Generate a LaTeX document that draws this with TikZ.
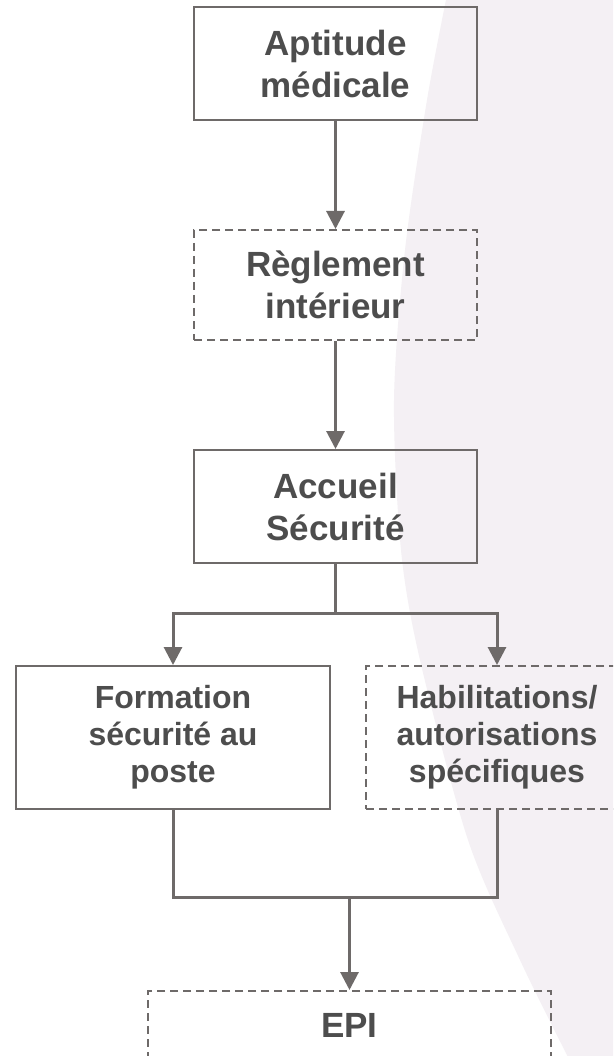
\documentclass[tikz,border=0pt]{standalone}
\usepackage{fontspec}
\setmainfont{Liberation Sans}
\usetikzlibrary{arrows.meta}
\definecolor{linegray}{RGB}{110,106,105}
\definecolor{textgray}{RGB}{77,77,77}
\definecolor{bgpink}{RGB}{244,240,244}

\begin{document}
\begin{tikzpicture}[x={(1pt,0pt)},y={(0pt,-1pt)},
        box/.style={draw=linegray,line width=2pt,inner sep=0pt,align=center,text=textgray,
            font=\bfseries\fontsize{35}{42}\selectfont},
        dbox/.style={box,dash pattern=on 8pt off 5pt},
        small/.style={font=\bfseries\fontsize{32}{37}\selectfont},
        link/.style={draw=linegray,line width=3pt},
        arrow/.style={link,-{Triangle[length=18pt,width=18pt]}}]
            \clip (0,0) rectangle (613,1056);
            \fill[white] (0,0) rectangle (613,1056);
            \fill[bgpink] plot[smooth] coordinates {(447,-5) (427,100) (405,250) (394,400) (401,550) (420,660) (468,840) (520,960) (570,1061)}
                -- (620,1061) -- (620,-5) -- cycle;
            \node[box,minimum width=283,minimum height=113] (apt) at (335.5,63.5) {Aptitude\\médicale};
            \node[dbox,minimum width=283,minimum height=110] (regl) at (335.5,285) {Règlement\\intérieur};
            \node[box,minimum width=283,minimum height=113] (accueil) at (335.5,506.5) {Accueil\\Sécurité};
            \node[box,small,minimum width=314,minimum height=143] (form) at (173,737.5) {Formation\\sécurité au\\poste};
            \node[dbox,small,minimum width=262,minimum height=143] (habil) at (497,737.5) {Habilitations/\\autorisations\\spécifiques};
            \node[dbox,minimum width=403,minimum height=69] (epi) at (349.5,1025.5) {EPI};
            \coordinate (split) at (335.5,613);
            \coordinate (merge) at (349.5,897);
            \draw[arrow] (apt) -- (regl);
            \draw[arrow] (regl) -- (accueil);
            \draw[link] (accueil) -- (split);
            \draw[arrow] (split) -| (form);
            \draw[arrow] (split) -| (habil);
            \draw[link] (form) |- (merge);
            \draw[link] (habil) |- (merge);
            \draw[arrow] (merge) -- (epi);
        \end{tikzpicture}
\end{document}
